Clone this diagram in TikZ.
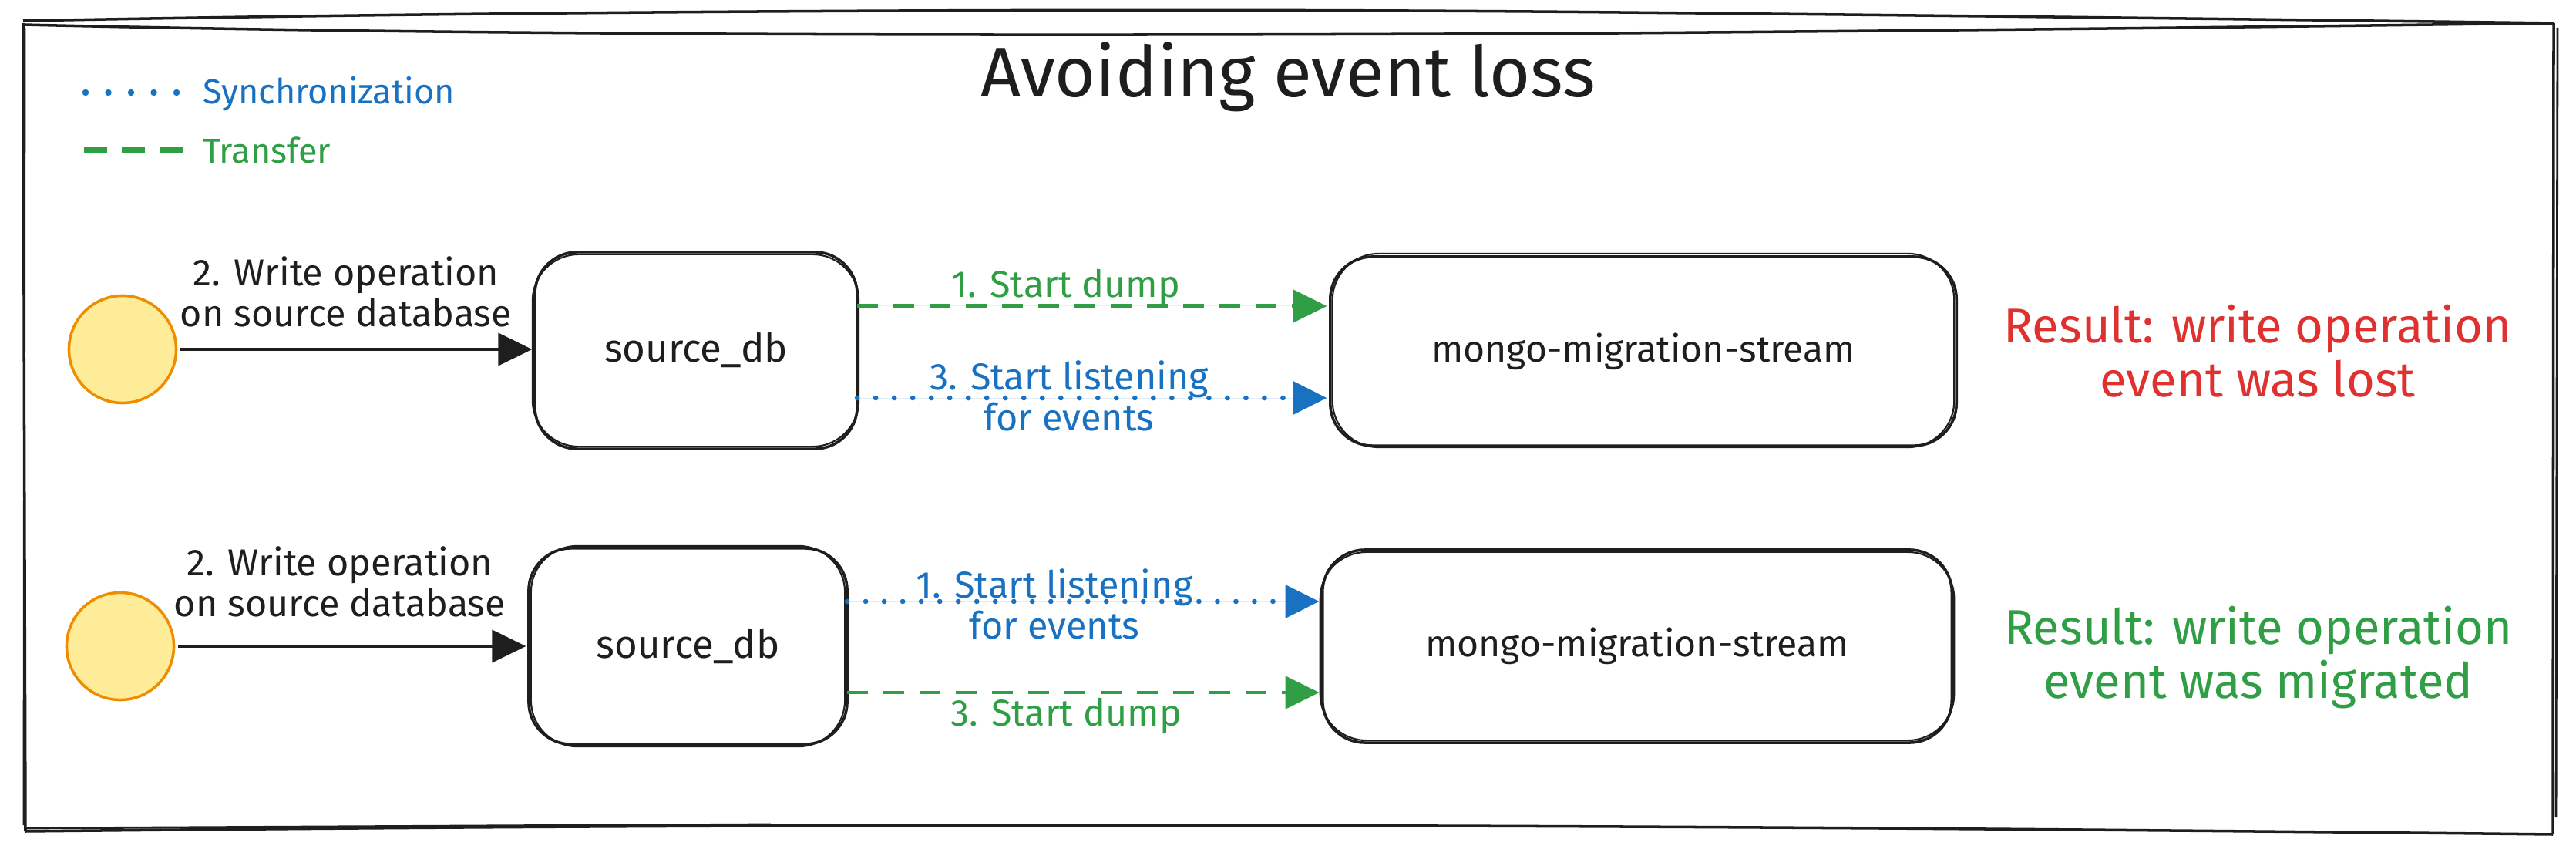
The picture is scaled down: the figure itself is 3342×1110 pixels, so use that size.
\documentclass[tikz,border=0pt]{standalone}
\usepackage{fontspec}
\setmainfont{Fira Sans}
\usetikzlibrary{arrows.meta,calc}
\definecolor{ink}{HTML}{1E1E1E}
\definecolor{sblue}{HTML}{1971C2}
\definecolor{sgreen}{HTML}{2F9E44}
\definecolor{sred}{HTML}{E03131}
\definecolor{syellow}{HTML}{FFEC99}
\definecolor{sorange}{HTML}{F08C00}
\begin{document}
\begin{tikzpicture}[x=0.01cm,y=-0.01cm,
  every node/.style={inner sep=0pt, outer sep=0pt},
  box/.style={draw=ink, line width=1pt, rounded corners=5.5mm, fill=white},
  boxtwo/.style={draw=ink, line width=0.6pt, rounded corners=6mm},
  actor/.style={circle, draw=sorange, fill=syellow, line width=1pt, minimum size=1.39cm},
  tip/.style={-{Triangle[length=4.4mm,width=4.2mm]}},
  plain/.style={tip, draw=ink, line width=1.1pt, shorten <=1.5pt, shorten >=1pt},
  sync/.style={draw=sblue, line width=1.9pt, line cap=round, dash pattern=on 0pt off 2.4mm},
  transfer/.style={draw=sgreen, line width=1.4pt, dash pattern=on 2.7mm off 2mm},
  synca/.style={sync, tip, fill=sblue, shorten >=1.2pt},
  transfera/.style={transfer, tip, fill=sgreen, shorten >=1.2pt},
  lbl/.style={text=ink, align=center, font=\fontsize{13.8}{15}\selectfont},
  bluelbl/.style={text=sblue, align=center, font=\fontsize{13.8}{15}\selectfont},
  greenlbl/.style={text=sgreen, align=center, font=\fontsize{13.8}{15}\selectfont},
  dbtxt/.style={text=ink, font=\fontsize{14.5}{17}\selectfont},
  mgtxt/.style={text=ink, font=\fontsize{13.7}{16}\selectfont},
  result/.style={align=center, font=\fontsize{18}{19.9}\selectfont},
  legtxt/.style={anchor=west, font=\fontsize{12.8}{15}\selectfont}
]
\fill[white] (0,0) rectangle (3342,1110);
\useasboundingbox (0,0) rectangle (3342,1110);

% outer frame (sketchy)
\draw[ink, line width=1pt] (30,27) .. controls (700,14) and (1500,10) .. (2100,16) .. controls (2700,22) and (3000,26) .. (3313,30);
\draw[ink, line width=1pt] (30,32) .. controls (700,48) and (1500,46) .. (2100,43) .. controls (2700,38) and (3000,34) .. (3313,30);
\draw[ink, line width=1pt] (3313,30) -- (3312,1082);
\draw[ink, line width=0.8pt] (3318,36) -- (3316,1060);
\draw[ink, line width=1pt] (33,1078) .. controls (800,1070) and (1700,1064) .. (3312,1082);
\draw[ink, line width=0.8pt] (33,1074) -- (1000,1069);
\draw[ink, line width=1pt] (30,30) -- (33,1078);
\draw[ink, line width=0.8pt] (32,36) -- (31,1070);

% title
\node[text=ink, font=\fontsize{25.9}{30}\selectfont] (title) at (1671,100) {Avoiding event loss};

% legend
\coordinate (ls1) at (111,120);
\coordinate (le1) at (232,120);
\coordinate (ls2) at (109,195);
\coordinate (le2) at (238,195);
\draw[sync, line width=2.4pt, dash pattern=on 0pt off 2.95mm] (ls1) -- (le1);
\draw[transfer, line width=2.2pt, dash pattern=on 3mm off 1.9mm] (ls2) -- (le2);
\node[legtxt, text=sblue] (legsync) at (263,122) {Synchronization};
\node[legtxt, text=sgreen] (legtrans) at (263,195) {Transfer};

% ---------- top row ----------
\node[actor] (c1) at (159,453) {};
\node[box, minimum width=4.18cm, minimum height=2.55cm] (db1) at (903,454.5) {};
\draw[boxtwo] ($(db1.north west)+(-3,3)$) rectangle ($(db1.south east)+(2,-3)$);
\node[dbtxt] (db1t) at (db1.center) {source\_db};
\node[box, minimum width=8.12cm, minimum height=2.45cm] (mg1) at (2132,455.5) {};
\draw[boxtwo] ($(mg1.north west)+(3,-4)$) rectangle ($(mg1.south east)+(-3,2)$);
\node[mgtxt] (mg1t) at (mg1.center) {mongo-migration-stream};

\draw[plain] (c1.east) -- (c1.east -| db1.west);
\node[lbl] (w1) at (449,378) {2. Write operation\\on source database};

\draw[transfera] ([yshift=5.75mm]db1.east) -- ([yshift=5.75mm]db1.east -| mg1.west);
\node[greenlbl] (d1) at (1383,372) {1. Start dump};
\draw[synca] ([yshift=-6.15mm]db1.east) -- ([yshift=-6.15mm]db1.east -| mg1.west);
\node[bluelbl] (l1) at (1387,513) {3. Start listening\\for events};

\node[result, text=sred] (r1) at (2929,455) {Result: write operation\\event was lost};

% ---------- bottom row ----------
\node[actor] (c2) at (156,838) {};
\node[box, minimum width=4.13cm, minimum height=2.54cm] (db2) at (892.5,838) {};
\draw[boxtwo] ($(db2.north west)+(3,-3)$) rectangle ($(db2.south east)+(-3,3)$);
\node[dbtxt] (db2t) at (db2.center) {source\_db};
\node[box, minimum width=8.16cm, minimum height=2.5cm] (mg2) at (2124,838) {};
\draw[boxtwo] ($(mg2.north west)+(-3,3)$) rectangle ($(mg2.south east)+(3,-3)$);
\node[mgtxt] (mg2t) at (mg2.center) {mongo-migration-stream};

\draw[plain] (c2.east) -- (c2.east -| db2.west);
\node[lbl] (w2) at (441,754) {2. Write operation\\on source database};

\draw[synca] ([yshift=5.8mm]db2.east) -- ([yshift=5.8mm]db2.east -| mg2.west);
\node[bluelbl] (l2) at (1368,783) {1. Start listening\\for events};
\draw[transfera] ([yshift=-6mm]db2.east) -- ([yshift=-6mm]db2.east -| mg2.west);
\node[greenlbl] (d2) at (1383,928) {3. Start dump};

\node[result, text=sgreen] (r2) at (2930,853) {Result: write operation\\event was migrated};
\end{tikzpicture}
\end{document}
